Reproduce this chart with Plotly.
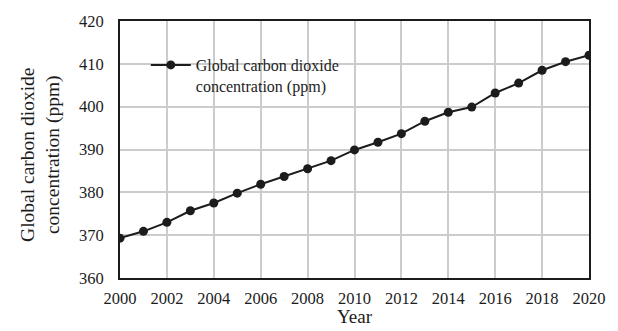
import plotly.graph_objects as go

# Global mean CO2 concentration by year
years = list(range(2000, 2021))
co2_ppm = [369.3, 370.9, 373.0, 375.7, 377.5, 379.8, 381.9, 383.7, 385.5, 387.4,
           389.9, 391.7, 393.7, 396.6, 398.7, 399.9, 403.2, 405.5, 408.5, 410.5, 412.0]

x_ticks = list(range(2000, 2021, 2))
y_ticks = list(range(360, 421, 10))

serif = "Liberation Serif, Times New Roman, serif"
ink = "#1c1c1c"
grid = "#cccccc"

fig = go.Figure()
fig.add_trace(go.Scatter(
    x=years, y=co2_ppm, mode="lines+markers",
    name="Global carbon dioxide<br>concentration (ppm)",
    line=dict(color=ink, width=2),
    marker=dict(color=ink, size=9),
))

fig.update_layout(
    width=618, height=331,
    margin=dict(l=120, r=26, t=18, b=53),
    paper_bgcolor="white", plot_bgcolor="white",
    font=dict(family=serif, color=ink, size=16),
    showlegend=True,
    legend=dict(
        x=0.055, y=0.895, xanchor="left", yanchor="top",
        bgcolor="rgba(0,0,0,0)", itemwidth=40, valign="top",
        font=dict(family=serif, size=16, color=ink),
    ),
    xaxis=dict(
        range=[2000, 2020], tickvals=x_ticks, ticks="",
        showgrid=True, gridcolor=grid, gridwidth=1.5,
        showline=True, linecolor=ink, linewidth=2, mirror=True,
        zeroline=False, tickfont=dict(size=16.5), ticklabelstandoff=4,
    ),
    yaxis=dict(
        range=[360, 420], tickvals=y_ticks, ticks="",
        showgrid=True, gridcolor=grid, gridwidth=1.5,
        showline=True, linecolor=ink, linewidth=2, mirror=True,
        zeroline=False, tickfont=dict(size=16.5), ticklabelstandoff=11,
    ),
    annotations=[
        dict(text="Global carbon dioxide<br>concentration (ppm)",
             xref="paper", yref="paper", x=-0.17, y=0.48,
             xanchor="center", yanchor="middle", textangle=-90,
             showarrow=False, font=dict(size=19.5, family=serif, color=ink)),
        dict(text="Year", xref="paper", yref="paper", x=0.5, y=-0.2,
             xanchor="center", yanchor="bottom", showarrow=False,
             font=dict(size=19, family=serif, color=ink)),
    ],
)

fig.write_html("out.html")
